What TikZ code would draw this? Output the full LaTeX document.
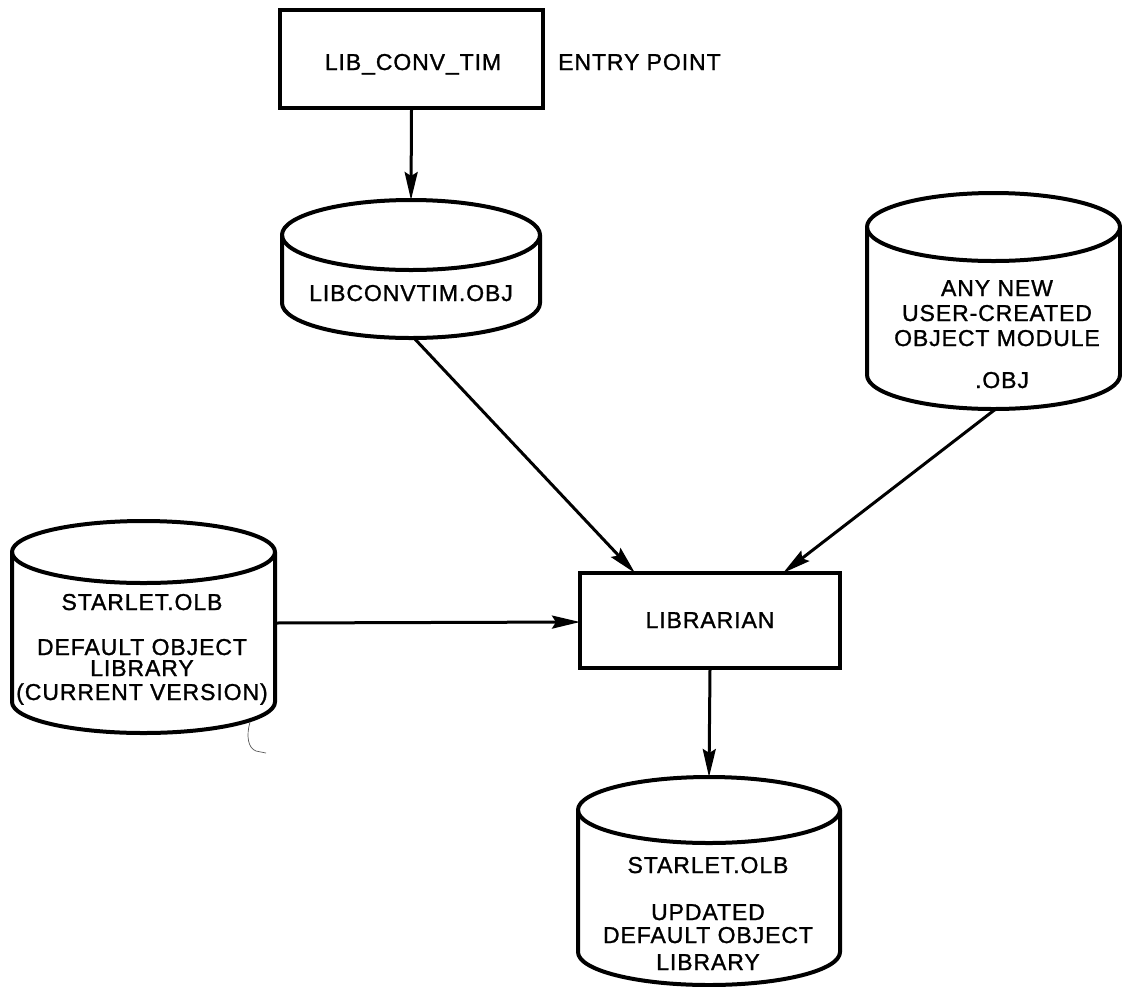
\documentclass[tikz,border=0pt]{standalone}
\usepackage{fontspec}
\setmainfont{Liberation Sans}[LetterSpace=4.0, FakeBold=1.2]
\usetikzlibrary{arrows.meta}

% drum (disk file) symbol: name, centre x, top-ellipse y, x radius, y radius, bottom-ellipse y
\newcommand\drum[6]{%
  \draw[drumline] (#2-#4,#3) -- (#2-#4,#6)
    arc[start angle=180, end angle=0, x radius=#4, y radius=#5] -- (#2+#4,#3);
  \draw[drumline] (#2,#3) ellipse[x radius=#4, y radius=#5];
  \coordinate (#1-top) at (#2,#3-#5);
  \coordinate (#1-bot) at (#2,#6+#5);
  \coordinate (#1-left) at (#2-#4,{(#3+#6)/2});
  \coordinate (#1-right) at (#2+#4,{(#3+#6)/2});
}

\begin{document}
\begin{tikzpicture}[x=1pt,y=-1pt,
  boxline/.style={draw, line width=3.5pt, line join=miter},
  drumline/.style={line width=4pt, line cap=round, line join=round},
  conn/.style={line width=3pt, -{Stealth[length=28pt, width=13pt, inset=4pt]}},
  lbl/.style={font=\fontsize{23}{25}\selectfont, anchor=base, inner sep=0pt},
]
\useasboundingbox (0,0) rectangle (1122,986);

% rectangular process boxes
\node[boxline, minimum width=263pt, minimum height=98pt, inner sep=0pt]
  (conv) at (411.5,59) {};
\node[lbl] (convtxt) at (413,70) {LIB\_CONV\_TIM};
\node[lbl, anchor=base west] (entry) at (558,70) {ENTRY POINT};

\node[boxline, minimum width=260pt, minimum height=95pt, inner sep=0pt]
  (lib) at (710,620.5) {};
\node[lbl] (libtxt) at (710,628) {LIBRARIAN};

% disk files
\drum{obj}{411}{235}{129}{35}{303}
\node[lbl] (objtxt) at (411,301) {LIBCONVTIM.OBJ};

\drum{usr}{993.5}{227}{126.5}{34}{375}
\node[lbl] (usr1) at (997,296) {ANY NEW};
\node[lbl] (usr2) at (997,321) {USER-CREATED};
\node[lbl] (usr3) at (997,346) {OBJECT MODULE};
\node[lbl] (usr4) at (1002,388) {.OBJ};

\drum{old}{143.5}{552}{131.5}{31}{702}
\node[lbl] (old1) at (142,610) {STARLET.OLB};
\node[lbl] (old2) at (142,655) {DEFAULT OBJECT};
\node[lbl] (old3) at (142,676) {LIBRARY};
\node[lbl] (old4) at (142,700) {(CURRENT VERSION)};

\drum{new}{709}{810}{131}{33}{952}
\node[lbl] (new1) at (708,873) {STARLET.OLB};
\node[lbl] (new2) at (708,920) {UPDATED};
\node[lbl] (new3) at (708,943) {DEFAULT OBJECT};
\node[lbl] (new4) at (708,970) {LIBRARY};

% connector end points on the librarian box and the drums
\coordinate (libinA) at (635,573);
\coordinate (libinB) at (783,573);
\coordinate (oldout) at (275,623);
\coordinate (libinC) at (580,622);
\coordinate (objout) at (413,337);
\coordinate (usrout) at (997,408);

% connectors
\draw[conn] (conv.south) -- (obj-top);
\draw[conn] (objout) -- (libinA);
\draw[conn] (usrout) -- (libinB);
\draw[conn] (oldout) -- (libinC);
\draw[conn] (lib.south) -- (new-top);

% small pencil stroke below the left drum
\draw[line width=0.7pt, gray!70!black] (250,722) .. controls (246,736) and (248,748) .. (256,751) -- (266,753);
\end{tikzpicture}
\end{document}
